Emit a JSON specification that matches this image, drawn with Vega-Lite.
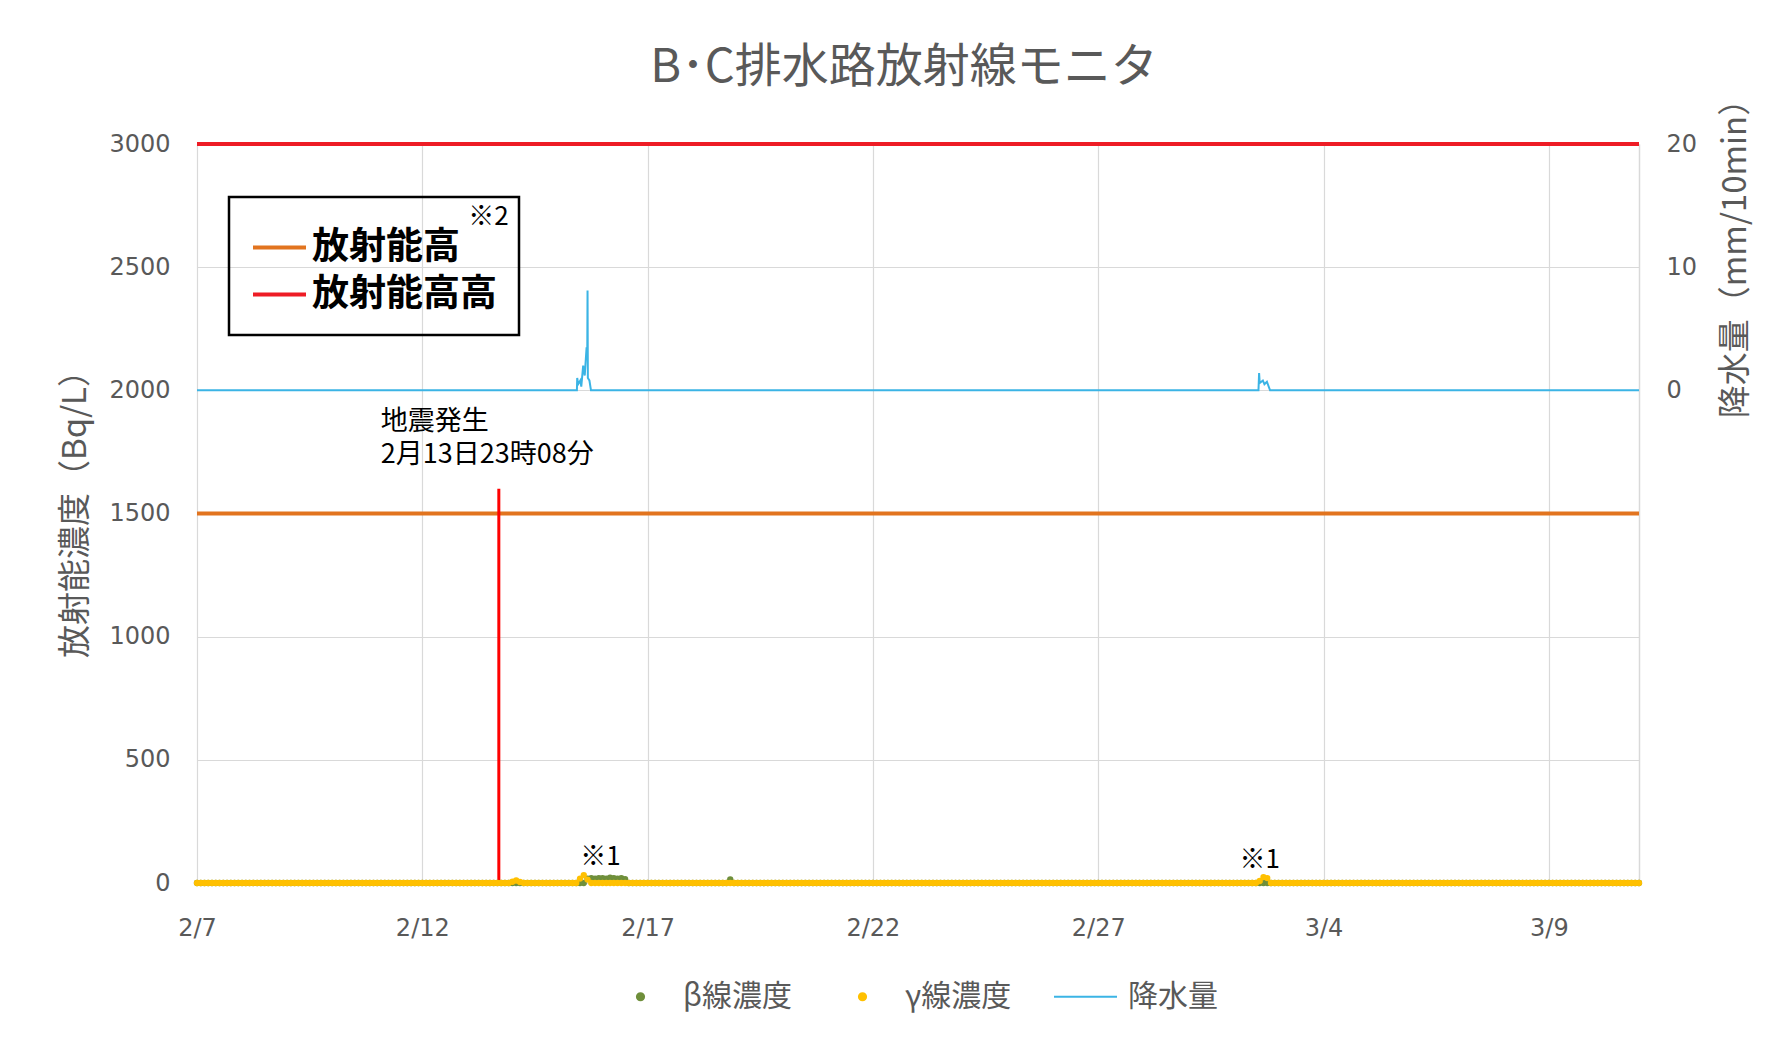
{
  "$schema": "https://vega.github.io/schema/vega-lite/v6.json",
  "width": 1442,
  "height": 739,
  "autosize": {"type": "none"},
  "padding": {"left": 197, "top": 144, "right": 153, "bottom": 163},
  "background": "white",
  "title": {"text": "B･C排水路放射線モニタ", "fontSize": 47, "color": "#595959", "fontWeight": "normal", "font": "Noto Sans CJK JP", "anchor": "middle", "offset": -10, "dx": -14},
  "config": {"view": {"stroke": null}, "font": "Noto Sans CJK JP"},
  "datasets": {
    "thr": [
      {"t": "2021-02-07T00:00", "v": 1500, "k": "放射能高"},
      {"t": "2021-03-11T00:00", "v": 1500, "k": "放射能高"},
      {"t": "2021-02-07T00:00", "v": 3000, "k": "放射能高高"},
      {"t": "2021-03-11T00:00", "v": 3000, "k": "放射能高高"}
    ],
    "eq": [{"t": "2021-02-13T16:45", "y0": 0, "y1": 1600}],
    "eqnote": [
      {"t": "2021-02-11T01:55", "v": 1925, "txt": "地震発生"},
      {"t": "2021-02-11T01:55", "v": 1792, "txt": "2月13日23時08分"}
    ],
    "refs": [
      {"t": "2021-02-15T22:50", "v": 105, "txt": "※1"},
      {"t": "2021-03-02T14:00", "v": 95, "txt": "※1"},
      {"t": "2021-02-13T11:15", "v": 2704, "txt": "※2"}
    ],
    "rain": [
      {"t": "2021-02-07T00:00", "r": 0},
      {"t": "2021-02-15T10:20", "r": 0},
      {"t": "2021-02-15T10:30", "r": 1.0},
      {"t": "2021-02-15T11:00", "r": 0.5},
      {"t": "2021-02-15T12:10", "r": 0.8},
      {"t": "2021-02-15T12:40", "r": 0.3},
      {"t": "2021-02-15T13:40", "r": 2.0},
      {"t": "2021-02-15T14:30", "r": 1.2},
      {"t": "2021-02-15T15:30", "r": 3.5},
      {"t": "2021-02-15T15:50", "r": 2.5},
      {"t": "2021-02-15T16:00", "r": 8.1},
      {"t": "2021-02-15T16:10", "r": 1.0},
      {"t": "2021-02-15T17:00", "r": 0.8},
      {"t": "2021-02-15T17:50", "r": 0},
      {"t": "2021-03-02T13:20", "r": 0},
      {"t": "2021-03-02T13:40", "r": 1.4},
      {"t": "2021-03-02T14:00", "r": 0.6},
      {"t": "2021-03-02T15:40", "r": 0.8},
      {"t": "2021-03-02T16:30", "r": 0.5},
      {"t": "2021-03-02T17:50", "r": 0.7},
      {"t": "2021-03-02T19:30", "r": 0},
      {"t": "2021-03-11T00:00", "r": 0}
    ],
    "conc": [
      {"t":"2021-02-07T00:00","b":0,"g":0},{"t":"2021-02-07T02:00","b":0,"g":0},{"t":"2021-02-07T04:00","b":0,"g":0},{"t":"2021-02-07T06:00","b":0,"g":0},{"t":"2021-02-07T08:00","b":0,"g":0},{"t":"2021-02-07T10:00","b":0,"g":0},{"t":"2021-02-07T12:00","b":0,"g":0},{"t":"2021-02-07T14:00","b":0,"g":0},{"t":"2021-02-07T16:00","b":0,"g":0},{"t":"2021-02-07T18:00","b":0,"g":0},{"t":"2021-02-07T20:00","b":0,"g":0},{"t":"2021-02-07T22:00","b":0,"g":0},
      {"t":"2021-02-08T00:00","b":0,"g":0},{"t":"2021-02-08T02:00","b":0,"g":0},{"t":"2021-02-08T04:00","b":0,"g":0},{"t":"2021-02-08T06:00","b":0,"g":0},{"t":"2021-02-08T08:00","b":0,"g":0},{"t":"2021-02-08T10:00","b":0,"g":0},{"t":"2021-02-08T12:00","b":0,"g":0},{"t":"2021-02-08T14:00","b":0,"g":0},{"t":"2021-02-08T16:00","b":0,"g":0},{"t":"2021-02-08T18:00","b":0,"g":0},{"t":"2021-02-08T20:00","b":0,"g":0},{"t":"2021-02-08T22:00","b":0,"g":0},
      {"t":"2021-02-09T00:00","b":0,"g":0},{"t":"2021-02-09T02:00","b":0,"g":0},{"t":"2021-02-09T04:00","b":0,"g":0},{"t":"2021-02-09T06:00","b":0,"g":0},{"t":"2021-02-09T08:00","b":0,"g":0},{"t":"2021-02-09T10:00","b":0,"g":0},{"t":"2021-02-09T12:00","b":0,"g":0},{"t":"2021-02-09T14:00","b":0,"g":0},{"t":"2021-02-09T16:00","b":0,"g":0},{"t":"2021-02-09T18:00","b":0,"g":0},{"t":"2021-02-09T20:00","b":0,"g":0},{"t":"2021-02-09T22:00","b":0,"g":0},
      {"t":"2021-02-10T00:00","b":0,"g":0},{"t":"2021-02-10T02:00","b":0,"g":0},{"t":"2021-02-10T04:00","b":0,"g":0},{"t":"2021-02-10T06:00","b":0,"g":0},{"t":"2021-02-10T08:00","b":0,"g":0},{"t":"2021-02-10T10:00","b":0,"g":0},{"t":"2021-02-10T12:00","b":0,"g":0},{"t":"2021-02-10T14:00","b":0,"g":0},{"t":"2021-02-10T16:00","b":0,"g":0},{"t":"2021-02-10T18:00","b":0,"g":0},{"t":"2021-02-10T20:00","b":0,"g":0},{"t":"2021-02-10T22:00","b":0,"g":0},
      {"t":"2021-02-11T00:00","b":0,"g":0},{"t":"2021-02-11T02:00","b":0,"g":0},{"t":"2021-02-11T04:00","b":0,"g":0},{"t":"2021-02-11T06:00","b":0,"g":0},{"t":"2021-02-11T08:00","b":0,"g":0},{"t":"2021-02-11T10:00","b":0,"g":0},{"t":"2021-02-11T12:00","b":0,"g":0},{"t":"2021-02-11T14:00","b":0,"g":0},{"t":"2021-02-11T16:00","b":0,"g":0},{"t":"2021-02-11T18:00","b":0,"g":0},{"t":"2021-02-11T20:00","b":0,"g":0},{"t":"2021-02-11T22:00","b":0,"g":0},
      {"t":"2021-02-12T00:00","b":0,"g":0},{"t":"2021-02-12T02:00","b":0,"g":0},{"t":"2021-02-12T04:00","b":0,"g":0},{"t":"2021-02-12T06:00","b":0,"g":0},{"t":"2021-02-12T08:00","b":0,"g":0},{"t":"2021-02-12T10:00","b":0,"g":0},{"t":"2021-02-12T12:00","b":0,"g":0},{"t":"2021-02-12T14:00","b":0,"g":0},{"t":"2021-02-12T16:00","b":0,"g":0},{"t":"2021-02-12T18:00","b":0,"g":0},{"t":"2021-02-12T20:00","b":0,"g":0},{"t":"2021-02-12T22:00","b":0,"g":0},
      {"t":"2021-02-13T00:00","b":0,"g":0},{"t":"2021-02-13T02:00","b":0,"g":0},{"t":"2021-02-13T04:00","b":0,"g":0},{"t":"2021-02-13T06:00","b":0,"g":0},{"t":"2021-02-13T08:00","b":0,"g":0},{"t":"2021-02-13T10:00","b":0,"g":0},{"t":"2021-02-13T12:00","b":0,"g":0},{"t":"2021-02-13T14:00","b":0,"g":0},{"t":"2021-02-13T16:00","b":0,"g":0},{"t":"2021-02-13T18:00","b":0,"g":0},{"t":"2021-02-13T20:00","b":0,"g":0},{"t":"2021-02-13T22:00","b":0,"g":0},
      {"t":"2021-02-14T00:00","b":0,"g":5},{"t":"2021-02-14T02:00","b":0,"g":10},{"t":"2021-02-14T04:00","b":0,"g":4},{"t":"2021-02-14T06:00","b":0,"g":0},{"t":"2021-02-14T08:00","b":0,"g":0},{"t":"2021-02-14T10:00","b":0,"g":0},{"t":"2021-02-14T12:00","b":0,"g":0},{"t":"2021-02-14T14:00","b":0,"g":0},{"t":"2021-02-14T16:00","b":0,"g":0},{"t":"2021-02-14T18:00","b":0,"g":0},{"t":"2021-02-14T20:00","b":0,"g":0},{"t":"2021-02-14T22:00","b":0,"g":0},
      {"t":"2021-02-15T00:00","b":0,"g":0},{"t":"2021-02-15T02:00","b":0,"g":0},{"t":"2021-02-15T04:00","b":0,"g":0},{"t":"2021-02-15T06:00","b":0,"g":0},{"t":"2021-02-15T08:00","b":0,"g":0},{"t":"2021-02-15T10:00","b":0,"g":0},{"t":"2021-02-15T12:00","b":0,"g":18},{"t":"2021-02-15T14:00","b":0,"g":32},{"t":"2021-02-15T16:00","b":18,"g":14},{"t":"2021-02-15T18:00","b":20,"g":0},{"t":"2021-02-15T20:00","b":18,"g":0},{"t":"2021-02-15T22:00","b":20,"g":0},
      {"t":"2021-02-16T00:00","b":20,"g":0},{"t":"2021-02-16T02:00","b":18,"g":0},{"t":"2021-02-16T04:00","b":22,"g":0},{"t":"2021-02-16T06:00","b":20,"g":0},{"t":"2021-02-16T08:00","b":18,"g":0},{"t":"2021-02-16T10:00","b":20,"g":0},{"t":"2021-02-16T12:00","b":16,"g":0},{"t":"2021-02-16T14:00","b":0,"g":0},{"t":"2021-02-16T16:00","b":0,"g":0},{"t":"2021-02-16T18:00","b":0,"g":0},{"t":"2021-02-16T20:00","b":0,"g":0},{"t":"2021-02-16T22:00","b":0,"g":0},
      {"t":"2021-02-17T00:00","b":0,"g":0},{"t":"2021-02-17T02:00","b":0,"g":0},{"t":"2021-02-17T04:00","b":0,"g":0},{"t":"2021-02-17T06:00","b":0,"g":0},{"t":"2021-02-17T08:00","b":0,"g":0},{"t":"2021-02-17T10:00","b":0,"g":0},{"t":"2021-02-17T12:00","b":0,"g":0},{"t":"2021-02-17T14:00","b":0,"g":0},{"t":"2021-02-17T16:00","b":0,"g":0},{"t":"2021-02-17T18:00","b":0,"g":0},{"t":"2021-02-17T20:00","b":0,"g":0},{"t":"2021-02-17T22:00","b":0,"g":0},
      {"t":"2021-02-18T00:00","b":0,"g":0},{"t":"2021-02-18T02:00","b":0,"g":0},{"t":"2021-02-18T04:00","b":0,"g":0},{"t":"2021-02-18T06:00","b":0,"g":0},{"t":"2021-02-18T08:00","b":0,"g":0},{"t":"2021-02-18T10:00","b":0,"g":0},{"t":"2021-02-18T12:00","b":0,"g":0},{"t":"2021-02-18T14:00","b":0,"g":0},{"t":"2021-02-18T16:00","b":0,"g":0},{"t":"2021-02-18T18:00","b":0,"g":0},{"t":"2021-02-18T20:00","b":15,"g":0},{"t":"2021-02-18T22:00","b":0,"g":0},
      {"t":"2021-02-19T00:00","b":0,"g":0},{"t":"2021-02-19T02:00","b":0,"g":0},{"t":"2021-02-19T04:00","b":0,"g":0},{"t":"2021-02-19T06:00","b":0,"g":0},{"t":"2021-02-19T08:00","b":0,"g":0},{"t":"2021-02-19T10:00","b":0,"g":0},{"t":"2021-02-19T12:00","b":0,"g":0},{"t":"2021-02-19T14:00","b":0,"g":0},{"t":"2021-02-19T16:00","b":0,"g":0},{"t":"2021-02-19T18:00","b":0,"g":0},{"t":"2021-02-19T20:00","b":0,"g":0},{"t":"2021-02-19T22:00","b":0,"g":0},
      {"t":"2021-02-20T00:00","b":0,"g":0},{"t":"2021-02-20T02:00","b":0,"g":0},{"t":"2021-02-20T04:00","b":0,"g":0},{"t":"2021-02-20T06:00","b":0,"g":0},{"t":"2021-02-20T08:00","b":0,"g":0},{"t":"2021-02-20T10:00","b":0,"g":0},{"t":"2021-02-20T12:00","b":0,"g":0},{"t":"2021-02-20T14:00","b":0,"g":0},{"t":"2021-02-20T16:00","b":0,"g":0},{"t":"2021-02-20T18:00","b":0,"g":0},{"t":"2021-02-20T20:00","b":0,"g":0},{"t":"2021-02-20T22:00","b":0,"g":0},
      {"t":"2021-02-21T00:00","b":0,"g":0},{"t":"2021-02-21T02:00","b":0,"g":0},{"t":"2021-02-21T04:00","b":0,"g":0},{"t":"2021-02-21T06:00","b":0,"g":0},{"t":"2021-02-21T08:00","b":0,"g":0},{"t":"2021-02-21T10:00","b":0,"g":0},{"t":"2021-02-21T12:00","b":0,"g":0},{"t":"2021-02-21T14:00","b":0,"g":0},{"t":"2021-02-21T16:00","b":0,"g":0},{"t":"2021-02-21T18:00","b":0,"g":0},{"t":"2021-02-21T20:00","b":0,"g":0},{"t":"2021-02-21T22:00","b":0,"g":0},
      {"t":"2021-02-22T00:00","b":0,"g":0},{"t":"2021-02-22T02:00","b":0,"g":0},{"t":"2021-02-22T04:00","b":0,"g":0},{"t":"2021-02-22T06:00","b":0,"g":0},{"t":"2021-02-22T08:00","b":0,"g":0},{"t":"2021-02-22T10:00","b":0,"g":0},{"t":"2021-02-22T12:00","b":0,"g":0},{"t":"2021-02-22T14:00","b":0,"g":0},{"t":"2021-02-22T16:00","b":0,"g":0},{"t":"2021-02-22T18:00","b":0,"g":0},{"t":"2021-02-22T20:00","b":0,"g":0},{"t":"2021-02-22T22:00","b":0,"g":0},
      {"t":"2021-02-23T00:00","b":0,"g":0},{"t":"2021-02-23T02:00","b":0,"g":0},{"t":"2021-02-23T04:00","b":0,"g":0},{"t":"2021-02-23T06:00","b":0,"g":0},{"t":"2021-02-23T08:00","b":0,"g":0},{"t":"2021-02-23T10:00","b":0,"g":0},{"t":"2021-02-23T12:00","b":0,"g":0},{"t":"2021-02-23T14:00","b":0,"g":0},{"t":"2021-02-23T16:00","b":0,"g":0},{"t":"2021-02-23T18:00","b":0,"g":0},{"t":"2021-02-23T20:00","b":0,"g":0},{"t":"2021-02-23T22:00","b":0,"g":0},
      {"t":"2021-02-24T00:00","b":0,"g":0},{"t":"2021-02-24T02:00","b":0,"g":0},{"t":"2021-02-24T04:00","b":0,"g":0},{"t":"2021-02-24T06:00","b":0,"g":0},{"t":"2021-02-24T08:00","b":0,"g":0},{"t":"2021-02-24T10:00","b":0,"g":0},{"t":"2021-02-24T12:00","b":0,"g":0},{"t":"2021-02-24T14:00","b":0,"g":0},{"t":"2021-02-24T16:00","b":0,"g":0},{"t":"2021-02-24T18:00","b":0,"g":0},{"t":"2021-02-24T20:00","b":0,"g":0},{"t":"2021-02-24T22:00","b":0,"g":0},
      {"t":"2021-02-25T00:00","b":0,"g":0},{"t":"2021-02-25T02:00","b":0,"g":0},{"t":"2021-02-25T04:00","b":0,"g":0},{"t":"2021-02-25T06:00","b":0,"g":0},{"t":"2021-02-25T08:00","b":0,"g":0},{"t":"2021-02-25T10:00","b":0,"g":0},{"t":"2021-02-25T12:00","b":0,"g":0},{"t":"2021-02-25T14:00","b":0,"g":0},{"t":"2021-02-25T16:00","b":0,"g":0},{"t":"2021-02-25T18:00","b":0,"g":0},{"t":"2021-02-25T20:00","b":0,"g":0},{"t":"2021-02-25T22:00","b":0,"g":0},
      {"t":"2021-02-26T00:00","b":0,"g":0},{"t":"2021-02-26T02:00","b":0,"g":0},{"t":"2021-02-26T04:00","b":0,"g":0},{"t":"2021-02-26T06:00","b":0,"g":0},{"t":"2021-02-26T08:00","b":0,"g":0},{"t":"2021-02-26T10:00","b":0,"g":0},{"t":"2021-02-26T12:00","b":0,"g":0},{"t":"2021-02-26T14:00","b":0,"g":0},{"t":"2021-02-26T16:00","b":0,"g":0},{"t":"2021-02-26T18:00","b":0,"g":0},{"t":"2021-02-26T20:00","b":0,"g":0},{"t":"2021-02-26T22:00","b":0,"g":0},
      {"t":"2021-02-27T00:00","b":0,"g":0},{"t":"2021-02-27T02:00","b":0,"g":0},{"t":"2021-02-27T04:00","b":0,"g":0},{"t":"2021-02-27T06:00","b":0,"g":0},{"t":"2021-02-27T08:00","b":0,"g":0},{"t":"2021-02-27T10:00","b":0,"g":0},{"t":"2021-02-27T12:00","b":0,"g":0},{"t":"2021-02-27T14:00","b":0,"g":0},{"t":"2021-02-27T16:00","b":0,"g":0},{"t":"2021-02-27T18:00","b":0,"g":0},{"t":"2021-02-27T20:00","b":0,"g":0},{"t":"2021-02-27T22:00","b":0,"g":0},
      {"t":"2021-02-28T00:00","b":0,"g":0},{"t":"2021-02-28T02:00","b":0,"g":0},{"t":"2021-02-28T04:00","b":0,"g":0},{"t":"2021-02-28T06:00","b":0,"g":0},{"t":"2021-02-28T08:00","b":0,"g":0},{"t":"2021-02-28T10:00","b":0,"g":0},{"t":"2021-02-28T12:00","b":0,"g":0},{"t":"2021-02-28T14:00","b":0,"g":0},{"t":"2021-02-28T16:00","b":0,"g":0},{"t":"2021-02-28T18:00","b":0,"g":0},{"t":"2021-02-28T20:00","b":0,"g":0},{"t":"2021-02-28T22:00","b":0,"g":0},
      {"t":"2021-03-01T00:00","b":0,"g":0},{"t":"2021-03-01T02:00","b":0,"g":0},{"t":"2021-03-01T04:00","b":0,"g":0},{"t":"2021-03-01T06:00","b":0,"g":0},{"t":"2021-03-01T08:00","b":0,"g":0},{"t":"2021-03-01T10:00","b":0,"g":0},{"t":"2021-03-01T12:00","b":0,"g":0},{"t":"2021-03-01T14:00","b":0,"g":0},{"t":"2021-03-01T16:00","b":0,"g":0},{"t":"2021-03-01T18:00","b":0,"g":0},{"t":"2021-03-01T20:00","b":0,"g":0},{"t":"2021-03-01T22:00","b":0,"g":0},
      {"t":"2021-03-02T00:00","b":0,"g":0},{"t":"2021-03-02T02:00","b":0,"g":0},{"t":"2021-03-02T04:00","b":0,"g":0},{"t":"2021-03-02T06:00","b":0,"g":0},{"t":"2021-03-02T08:00","b":0,"g":0},{"t":"2021-03-02T10:00","b":0,"g":0},{"t":"2021-03-02T12:00","b":0,"g":0},{"t":"2021-03-02T14:00","b":0,"g":8},{"t":"2021-03-02T16:00","b":0,"g":24},{"t":"2021-03-02T18:00","b":0,"g":20},{"t":"2021-03-02T20:00","b":0,"g":0},{"t":"2021-03-02T22:00","b":0,"g":0},
      {"t":"2021-03-03T00:00","b":0,"g":0},{"t":"2021-03-03T02:00","b":0,"g":0},{"t":"2021-03-03T04:00","b":0,"g":0},{"t":"2021-03-03T06:00","b":0,"g":0},{"t":"2021-03-03T08:00","b":0,"g":0},{"t":"2021-03-03T10:00","b":0,"g":0},{"t":"2021-03-03T12:00","b":0,"g":0},{"t":"2021-03-03T14:00","b":0,"g":0},{"t":"2021-03-03T16:00","b":0,"g":0},{"t":"2021-03-03T18:00","b":0,"g":0},{"t":"2021-03-03T20:00","b":0,"g":0},{"t":"2021-03-03T22:00","b":0,"g":0},
      {"t":"2021-03-04T00:00","b":0,"g":0},{"t":"2021-03-04T02:00","b":0,"g":0},{"t":"2021-03-04T04:00","b":0,"g":0},{"t":"2021-03-04T06:00","b":0,"g":0},{"t":"2021-03-04T08:00","b":0,"g":0},{"t":"2021-03-04T10:00","b":0,"g":0},{"t":"2021-03-04T12:00","b":0,"g":0},{"t":"2021-03-04T14:00","b":0,"g":0},{"t":"2021-03-04T16:00","b":0,"g":0},{"t":"2021-03-04T18:00","b":0,"g":0},{"t":"2021-03-04T20:00","b":0,"g":0},{"t":"2021-03-04T22:00","b":0,"g":0},
      {"t":"2021-03-05T00:00","b":0,"g":0},{"t":"2021-03-05T02:00","b":0,"g":0},{"t":"2021-03-05T04:00","b":0,"g":0},{"t":"2021-03-05T06:00","b":0,"g":0},{"t":"2021-03-05T08:00","b":0,"g":0},{"t":"2021-03-05T10:00","b":0,"g":0},{"t":"2021-03-05T12:00","b":0,"g":0},{"t":"2021-03-05T14:00","b":0,"g":0},{"t":"2021-03-05T16:00","b":0,"g":0},{"t":"2021-03-05T18:00","b":0,"g":0},{"t":"2021-03-05T20:00","b":0,"g":0},{"t":"2021-03-05T22:00","b":0,"g":0},
      {"t":"2021-03-06T00:00","b":0,"g":0},{"t":"2021-03-06T02:00","b":0,"g":0},{"t":"2021-03-06T04:00","b":0,"g":0},{"t":"2021-03-06T06:00","b":0,"g":0},{"t":"2021-03-06T08:00","b":0,"g":0},{"t":"2021-03-06T10:00","b":0,"g":0},{"t":"2021-03-06T12:00","b":0,"g":0},{"t":"2021-03-06T14:00","b":0,"g":0},{"t":"2021-03-06T16:00","b":0,"g":0},{"t":"2021-03-06T18:00","b":0,"g":0},{"t":"2021-03-06T20:00","b":0,"g":0},{"t":"2021-03-06T22:00","b":0,"g":0},
      {"t":"2021-03-07T00:00","b":0,"g":0},{"t":"2021-03-07T02:00","b":0,"g":0},{"t":"2021-03-07T04:00","b":0,"g":0},{"t":"2021-03-07T06:00","b":0,"g":0},{"t":"2021-03-07T08:00","b":0,"g":0},{"t":"2021-03-07T10:00","b":0,"g":0},{"t":"2021-03-07T12:00","b":0,"g":0},{"t":"2021-03-07T14:00","b":0,"g":0},{"t":"2021-03-07T16:00","b":0,"g":0},{"t":"2021-03-07T18:00","b":0,"g":0},{"t":"2021-03-07T20:00","b":0,"g":0},{"t":"2021-03-07T22:00","b":0,"g":0},
      {"t":"2021-03-08T00:00","b":0,"g":0},{"t":"2021-03-08T02:00","b":0,"g":0},{"t":"2021-03-08T04:00","b":0,"g":0},{"t":"2021-03-08T06:00","b":0,"g":0},{"t":"2021-03-08T08:00","b":0,"g":0},{"t":"2021-03-08T10:00","b":0,"g":0},{"t":"2021-03-08T12:00","b":0,"g":0},{"t":"2021-03-08T14:00","b":0,"g":0},{"t":"2021-03-08T16:00","b":0,"g":0},{"t":"2021-03-08T18:00","b":0,"g":0},{"t":"2021-03-08T20:00","b":0,"g":0},{"t":"2021-03-08T22:00","b":0,"g":0},
      {"t":"2021-03-09T00:00","b":0,"g":0},{"t":"2021-03-09T02:00","b":0,"g":0},{"t":"2021-03-09T04:00","b":0,"g":0},{"t":"2021-03-09T06:00","b":0,"g":0},{"t":"2021-03-09T08:00","b":0,"g":0},{"t":"2021-03-09T10:00","b":0,"g":0},{"t":"2021-03-09T12:00","b":0,"g":0},{"t":"2021-03-09T14:00","b":0,"g":0},{"t":"2021-03-09T16:00","b":0,"g":0},{"t":"2021-03-09T18:00","b":0,"g":0},{"t":"2021-03-09T20:00","b":0,"g":0},{"t":"2021-03-09T22:00","b":0,"g":0},
      {"t":"2021-03-10T00:00","b":0,"g":0},{"t":"2021-03-10T02:00","b":0,"g":0},{"t":"2021-03-10T04:00","b":0,"g":0},{"t":"2021-03-10T06:00","b":0,"g":0},{"t":"2021-03-10T08:00","b":0,"g":0},{"t":"2021-03-10T10:00","b":0,"g":0},{"t":"2021-03-10T12:00","b":0,"g":0},{"t":"2021-03-10T14:00","b":0,"g":0},{"t":"2021-03-10T16:00","b":0,"g":0},{"t":"2021-03-10T18:00","b":0,"g":0},{"t":"2021-03-10T20:00","b":0,"g":0},{"t":"2021-03-10T22:00","b":0,"g":0},
      {"t":"2021-03-11T00:00","b":0,"g":0}
    ]
  },
  "encoding": {
    "x": {
      "field": "t", "type": "temporal",
      "scale": {"domain": [{"year": 2021, "month": 2, "date": 7}, {"year": 2021, "month": 3, "date": 11}]},
      "axis": {
        "title": null,
        "values": [{"year": 2021, "month": 2, "date": 7}, {"year": 2021, "month": 2, "date": 12}, {"year": 2021, "month": 2, "date": 17}, {"year": 2021, "month": 2, "date": 22}, {"year": 2021, "month": 2, "date": 27}, {"year": 2021, "month": 3, "date": 4}, {"year": 2021, "month": 3, "date": 9}],
        "format": "%-m/%-d",
        "grid": true, "gridColor": "#D9D9D9", "gridWidth": 1.2,
        "domain": false, "ticks": false,
        "labelFontSize": 24, "labelColor": "#595959", "labelFont": "DejaVu Sans",
        "labelPadding": 33, "labelFlush": false, "labelOverlap": false
      }
    }
  },
  "layer": [
    {
      "layer": [
        {
          "data": {"name": "thr"},
          "mark": {"type": "line", "strokeWidth": 4},
          "encoding": {
            "y": {
              "field": "v", "type": "quantitative", "title": "放射能濃度（Bq/L）",
              "scale": {"domain": [0, 3000], "nice": false},
              "axis": {
                "values": [0, 500, 1000, 1500, 2000, 2500, 3000], "format": "d",
                "grid": true, "gridColor": "#D9D9D9", "gridWidth": 1.2,
                "domain": false, "ticks": false,
                "labelFontSize": 24, "labelColor": "#595959", "labelFont": "DejaVu Sans", "labelPadding": 27,
                "titleFontSize": 33, "titleColor": "#595959", "titleFont": "Noto Sans CJK JP", "titleFontWeight": "normal",
                "titleAngle": 270, "titleX": -122, "titleY": 361.5, "titleAlign": "center", "titleBaseline": "middle"
              }
            },
            "stroke": {
              "field": "k", "type": "nominal",
              "scale": {"domain": ["放射能高", "放射能高高"], "range": ["#E2741F", "#EE1C25"]},
              "legend": {
                "orient": "none", "legendX": 32, "legendY": 53, "title": null,
                "padding": 22, "strokeColor": "black", "fillColor": "transparent",
                "symbolType": "stroke", "symbolSize": 2809, "symbolStrokeWidth": 4,
                "labelFontSize": 37, "labelFontWeight": "bold", "labelColor": "black", "labelFont": "Noto Sans CJK JP",
                "labelOffset": 4, "rowPadding": -8, "labelLimit": 500,
                "encoding": {"legend": {"strokeWidth": {"value": 2.5}}}
              }
            }
          }
        },
        {
          "data": {"name": "eq"},
          "mark": {"type": "rule", "color": "#FF0000", "strokeWidth": 3},
          "encoding": {
            "y": {"field": "y0", "type": "quantitative", "title": "放射能濃度（Bq/L）"},
            "y2": {"field": "y1"}
          }
        },
        {
          "data": {"name": "conc"},
          "mark": {"type": "point", "filled": true, "size": 40, "opacity": 1},
          "encoding": {
            "y": {"field": "b", "type": "quantitative", "title": "放射能濃度（Bq/L）"},
            "color": {
              "datum": "β線濃度",
              "scale": {"domain": ["β線濃度", "γ線濃度", "降水量"], "range": ["#6F8F3B", "#FFC000", "#3BB4E5"]},
              "legend": {
                "orient": "none", "legendX": 411, "legendY": 820, "direction": "horizontal", "title": null,
                "padding": 0, "labelFontSize": 30, "labelColor": "#595959", "labelFont": "Noto Sans CJK JP",
                "labelOffset": 10, "columnPadding": 38, "symbolSize": 3969,
                "encoding": {"symbols": {
                  "shape": {"value": {"expr": "datum.value === '降水量' ? 'stroke' : 'M-0.114,0A0.114,0.114,0,1,1,0.114,0A0.114,0.114,0,1,1,-0.114,0Z'"}},
                  "size": {"value": 3969},
                  "strokeWidth": {"value": 2},
                  "fill": {"value": {"expr": "datum.value === '降水量' ? 'transparent' : scale('color', datum.value)"}},
                  "stroke": {"value": {"expr": "datum.value === '降水量' ? scale('color', datum.value) : 'transparent'"}},
                  "opacity": {"value": 1}
                }}
              }
            }
          }
        },
        {
          "data": {"name": "conc"},
          "mark": {"type": "point", "filled": true, "size": 40, "opacity": 1},
          "encoding": {
            "y": {"field": "g", "type": "quantitative", "title": "放射能濃度（Bq/L）"},
            "color": {"datum": "γ線濃度", "scale": {"domain": ["β線濃度", "γ線濃度", "降水量"], "range": ["#6F8F3B", "#FFC000", "#3BB4E5"]}}
          }
        },
        {
          "data": {"name": "eqnote"},
          "mark": {"type": "text", "align": "left", "baseline": "top", "fontSize": 27, "color": "black", "font": "Noto Sans CJK JP"},
          "encoding": {
            "y": {"field": "v", "type": "quantitative", "title": "放射能濃度（Bq/L）"},
            "text": {"field": "txt"}
          }
        },
        {
          "data": {"name": "refs"},
          "mark": {"type": "text", "align": "center", "baseline": "middle", "fontSize": 26, "color": "black", "font": "Noto Sans CJK JP"},
          "encoding": {
            "y": {"field": "v", "type": "quantitative", "title": "放射能濃度（Bq/L）"},
            "text": {"field": "txt"}
          }
        }
      ]
    },
    {
      "data": {"name": "rain"},
      "mark": {"type": "line", "strokeWidth": 2},
      "encoding": {
        "y": {
          "field": "r", "type": "quantitative", "title": "降水量（mm/10min）",
          "scale": {"domain": [-40, 20], "nice": false},
          "axis": {
            "orient": "right", "values": [0, 10, 20], "grid": false,
            "domain": true, "domainColor": "#D9D9D9", "domainWidth": 1.5, "ticks": false,
            "labelFontSize": 24, "labelColor": "#595959", "labelFont": "DejaVu Sans", "labelPadding": 27,
            "titleFontSize": 33, "titleColor": "#595959", "titleFont": "Noto Sans CJK JP", "titleFontWeight": "normal",
            "titleAngle": 270, "titleX": 96, "titleY": 106, "titleAlign": "center", "titleBaseline": "middle"
          }
        },
        "color": {"datum": "降水量", "scale": {"domain": ["β線濃度", "γ線濃度", "降水量"], "range": ["#6F8F3B", "#FFC000", "#3BB4E5"]}}
      }
    }
  ],
  "resolve": {"scale": {"y": "independent"}}
}
